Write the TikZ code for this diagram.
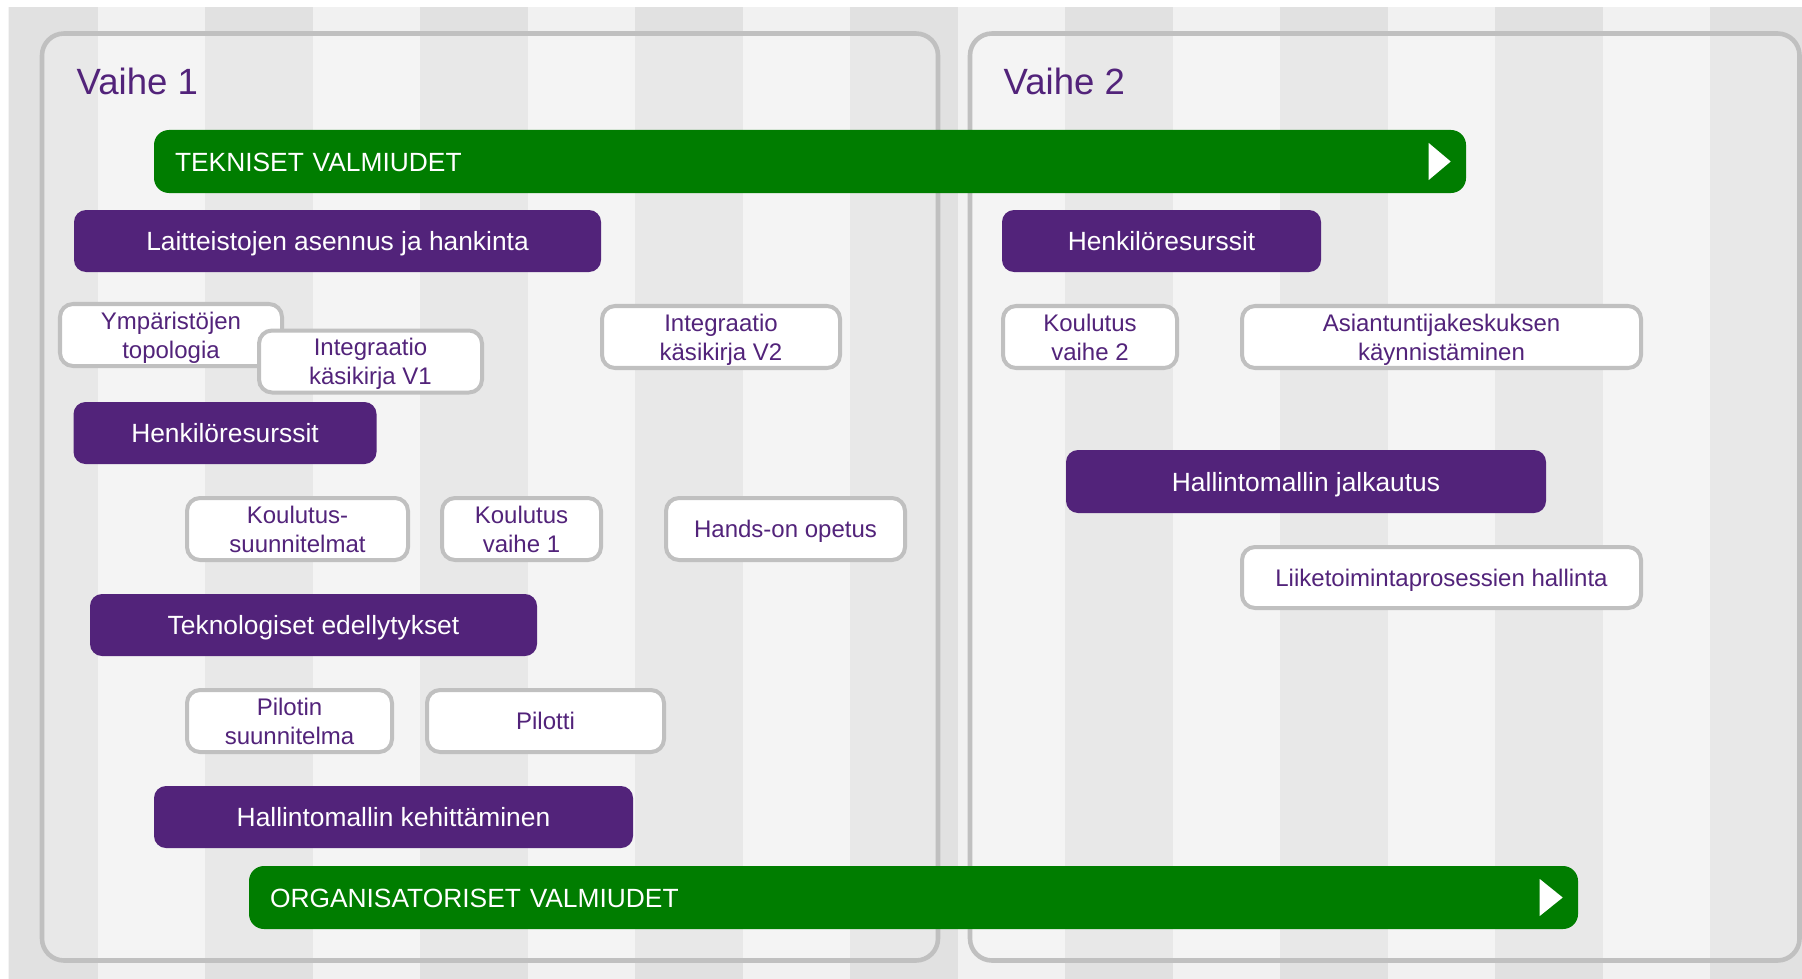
\documentclass[tikz,border=0pt]{standalone}
\usepackage{fontspec}
\setsansfont{Liberation Sans}
\RequirePackage{xcolor}
\tikzset{every picture/.style={/utils/exec={\sffamily}}}
\usetikzlibrary{calc}

\definecolor{vpurple}{RGB}{82,35,122}
\definecolor{vgreen}{RGB}{0,125,0}
\definecolor{vframe}{RGB}{192,192,192}
\definecolor{stripedark}{RGB}{225,225,225}
\definecolor{stripelight}{RGB}{241,241,241}

\tikzset{
  phase/.style={draw=vframe, line width=1.3pt, rounded corners=0.22cm, fill=white, fill opacity=0.25},
  title/.style={text=vpurple, font=\fontsize{10.4}{12}\selectfont, anchor=base west, inner sep=0},
  task/.style={fill=vpurple, text=white, rounded corners=0.12cm, minimum height=0.62cm,
    text height=0.55em, text depth=0pt, inner sep=0, font=\fontsize{7.5}{9}\selectfont},
  item/.style={draw=vframe, line width=1.14pt, fill=white, text=vpurple, rounded corners=0.13cm,
    minimum height=0.62cm, align=center, text depth=-0.12em, inner sep=0,
    font=\fontsize{6.83}{8.17}\selectfont},
  track/.style={fill=vgreen, text=white, rounded corners=0.15cm, minimum height=0.63cm,
    inner xsep=0.21cm, inner ysep=0, align=left, text height=0.55em, text depth=0pt,
    font=\fontsize{7.5}{9}\selectfont},
}

\begin{document}
\begin{tikzpicture}
  \useasboundingbox (0,0) rectangle (18.02,-9.79);

  % striped backdrop
  \fill[stripelight] (0.085,-0.075) rectangle (18.02,-9.79);
  \begin{scope}
    \clip (0.085,-0.075) rectangle (18.02,-9.79);
    \foreach \i in {0,...,8} {
      \fill[stripedark] ({-0.10+2.15*\i},-0.075) rectangle ({0.975+2.15*\i},-9.79);
    }
  \end{scope}

  \draw[phase] (0.42,-0.335) rectangle (9.38,-9.605);
  \draw[phase] (9.70,-0.335) rectangle (17.995,-9.605);

  \node[title] (vaihe1) at (0.76,-0.95) {Vaihe 1};
  \node[title] (vaihe2) at (10.03,-0.95) {Vaihe 2};

  \node[track, text width=12.70cm] (tek) at (8.10,-1.615) {TEKNISET VALMIUDET};
  \node[track, text width=12.87cm] (org) at (9.135,-8.975) {ORGANISATORISET VALMIUDET};

  \foreach \bar/\dx in {tek/0.38,org/0.39} {
    \fill[white] ($(\bar.east)+(-\dx,0.185)$) -- ($(\bar.east)+(-0.16,0)$)
      -- ($(\bar.east)+(-\dx,-0.185)$) -- cycle;
  }

  \node[task, minimum width=5.27cm] (laite) at (3.375,-2.41) {Laitteistojen asennus ja hankinta};
  \node[task, minimum width=3.03cm] (henk1) at (2.25,-4.33) {Henkilöresurssit};
  \node[task, minimum width=4.47cm] (tekno) at (3.135,-6.25) {Teknologiset edellytykset};
  \node[task, minimum width=4.79cm] (hkehit) at (3.935,-8.17) {Hallintomallin kehittäminen};
  \node[task, minimum width=3.19cm] (henk2) at (11.615,-2.41) {Henkilöresurssit};
  \node[task, minimum width=4.80cm, minimum height=0.63cm] (hjalk) at (13.06,-4.815) {Hallintomallin jalkautus};

  \node[item, minimum width=2.22cm] (ymp) at (1.71,-3.35) {Ympäristöjen\\topologia};
  \node[item, minimum width=2.23cm] (intv1) at (3.705,-3.615) {Integraatio\\käsikirja V1};
  \node[item, minimum width=2.38cm] (intv2) at (7.21,-3.37) {Integraatio\\käsikirja V2};
  \node[item, minimum width=1.74cm] (kv2) at (10.90,-3.37) {Koulutus\\vaihe 2};
  \node[item, minimum width=3.99cm] (asian) at (14.415,-3.37) {Asiantuntijakeskuksen\\käynnistäminen};
  \node[item, minimum width=2.21cm] (ksuun) at (2.975,-5.29) {Koulutus-\\suunnitelmat};
  \node[item, minimum width=1.59cm] (kv1) at (5.215,-5.29) {Koulutus\\vaihe 1};
  \node[item, minimum width=2.39cm] (hands) at (7.855,-5.29) {Hands-on opetus};
  \node[item, minimum width=3.99cm, minimum height=0.61cm] (liike) at (14.415,-5.775) {Liiketoimintaprosessien hallinta};
  \node[item, minimum width=2.05cm] (psuun) at (2.895,-7.21) {Pilotin\\suunnitelma};
  \node[item, minimum width=2.37cm] (pilot) at (5.455,-7.21) {Pilotti};

\end{tikzpicture}
\end{document}
